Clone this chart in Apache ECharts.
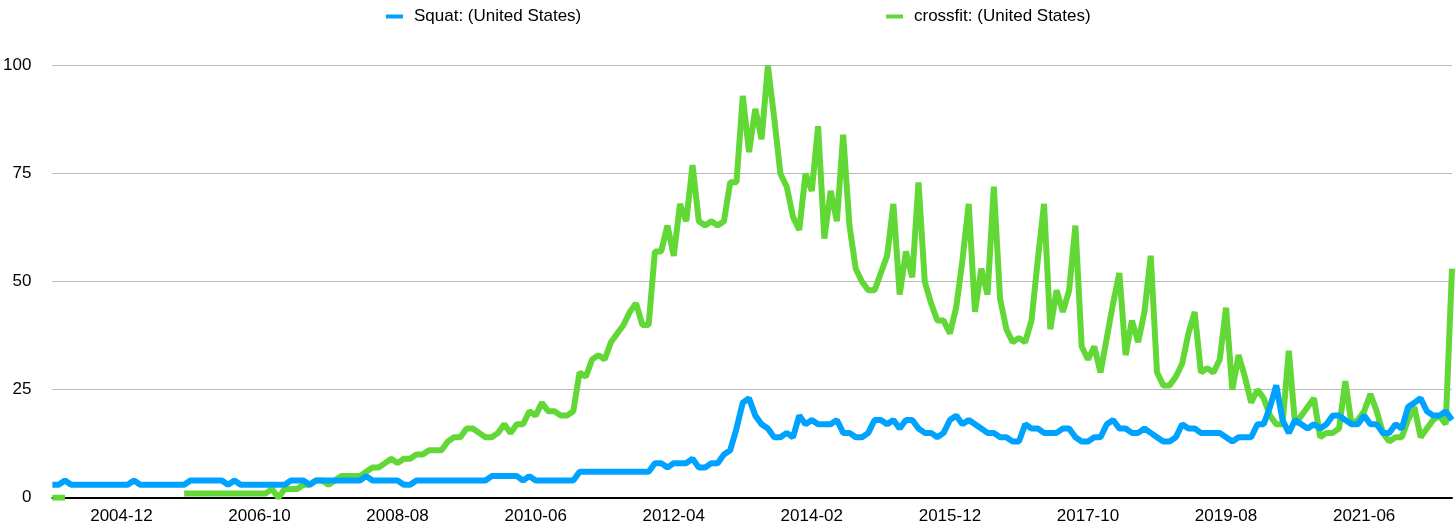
<!DOCTYPE html>
<html>
<head>
<meta charset="utf-8">
<script src="https://cdn.jsdelivr.net/npm/echarts@6/dist/echarts.min.js"></script>
<style>
html,body{margin:0;padding:0;background:#fff;}
#chart{width:1456px;height:526px;}
</style>
</head>
<body>
<div id="chart"></div>
<script>
// Monthly categories 2004-01 .. 2022-08
const startYear = 2004, endYear = 2022, endMonth = 8;
const categories = [];
for (let y = startYear; y <= endYear; y++) {
  for (let m = 1; m <= 12; m++) {
    if (y === endYear && m > endMonth) break;
    categories.push(y + '-' + (m < 10 ? '0' + m : m));
  }
}

const seriesNames = ['Squat: (United States)', 'crossfit: (United States)'];

const squat = [
  3,3,4,3,3,3,3,3,3,3,3,3,3,4,3,3,3,3,3,3,
  3,3,4,4,4,4,4,4,3,4,3,3,3,3,3,3,3,3,4,4,
  4,3,4,4,4,4,4,4,4,4,5,4,4,4,4,4,3,3,4,4,
  4,4,4,4,4,4,4,4,4,4,5,5,5,5,5,4,5,4,4,4,
  4,4,4,4,6,6,6,6,6,6,6,6,6,6,6,6,
  8,8,7,8,8,8,9,7,7,8,8,10,11,16,22,23,19,17,16,14,
  14,15,14,19,17,18,17,17,17,18,15,15,14,14,15,18,18,17,18,16,
  18,18,16,15,15,14,15,18,19,17,18,17,16,15,15,14,14,13,13,17,
  16,16,15,
  15,15,16,16,14,13,13,14,14,17,18,16,16,15,15,16,15,14,13,13,
  14,17,16,16,15,15,15,15,14,13,14,14,14,17,17,21,26,18,15,18,
  17,16,17,16,17,19,19,18,17,17,19,17,17,15,15,17,16,21,22,23,
  20,19,19,20,18
];

const crossfit = [
  0,0,0,null,null,null,null,null,null,null,null,null,null,null,null,null,null,null,null,null,
  null,1,1,1,1,1,1,1,1,1,1,1,1,1,1,2,0,2,2,2,
  3,3,4,4,3,4,5,5,5,5,6,7,7,8,9,8,9,9,10,10,
  11,11,11,13,14,14,16,16,15,14,14,15,17,15,17,17,20,19,22,20,
  20,19,19,20,29,28,32,33,32,36,38,40,43,45,40,40,57,57,63,56,
  68,64,77,64,63,64,63,64,73,73,93,80,90,83,100,88,75,72,65,62,
  75,71,86,60,71,64,84,63,53,50,48,48,52,56,68,47,57,51,73,50,
  45,41,41,38,44,55,68,43,53,47,72,46,39,36,37,36,41,55,68,39,
  48,43,48,63,35,32,35,29,37,45,52,33,41,36,43,56,29,26,26,28,
  31,38,43,29,30,29,32,44,25,33,28,22,25,23,19,17,17,34,17,19,
  21,23,14,15,15,16,27,17,18,20,24,20,15,13,14,14,18,21,14,16,
  18,19,17,53
];

const yTicks = [0, 25, 50, 75, 100];
const labelStartIndex = 11;
const labelStep = 22;

const chart = echarts.init(document.getElementById('chart'), null, {renderer: 'canvas'});
const font = 'Liberation Sans, Arial, Helvetica, sans-serif';

chart.setOption({
  animation: false,
  backgroundColor: '#ffffff',
  textStyle: {fontFamily: font},
  legend: [
    {
      data: [seriesNames[0]], left: 381, top: 3,
      icon: 'rect', itemWidth: 17, itemHeight: 4, itemGap: 0,
      textStyle: {fontSize: 17, color: '#000', fontFamily: font, padding: [0,0,0,6]}
    },
    {
      data: [seriesNames[1]], left: 881, top: 3,
      icon: 'rect', itemWidth: 17, itemHeight: 4, itemGap: 0,
      textStyle: {fontSize: 17, color: '#000', fontFamily: font, padding: [0,0,0,6]}
    }
  ],
  grid: {left: 50, right: 4, top: 65.7, bottom: 28.3, containLabel: false},
  xAxis: {
    type: 'category',
    data: categories,
    boundaryGap: false,
    axisLine: {show: true, lineStyle: {color: '#000', width: 2}},
    axisTick: {show: false},
    splitLine: {show: false},
    axisLabel: {
      fontSize: 17, color: '#000', fontFamily: font, margin: 10,
      interval: function (idx) { return idx % labelStep === labelStartIndex; }
    }
  },
  yAxis: {
    type: 'value',
    min: yTicks[0], max: yTicks[yTicks.length - 1], interval: 25,
    axisLine: {show: false},
    axisTick: {show: false},
    splitLine: {show: true, lineStyle: {color: '#b9b9b9', width: 1}},
    axisLabel: {fontSize: 17, color: '#000', fontFamily: font, margin: 21}
  },
  series: [
    {
      name: seriesNames[0], type: 'line', data: squat, z: 3,
      showSymbol: false, symbol: 'none', smooth: false,
      color: '#00A2FF',
      lineStyle: {color: '#00A2FF', width: 6, join: 'bevel'}
    },
    {
      name: seriesNames[1], type: 'line', data: crossfit, z: 2,
      showSymbol: false, symbol: 'none', smooth: false, connectNulls: false,
      color: '#61D836',
      lineStyle: {color: '#61D836', width: 6, join: 'bevel'}
    }
  ]
});
</script>
</body>
</html>
